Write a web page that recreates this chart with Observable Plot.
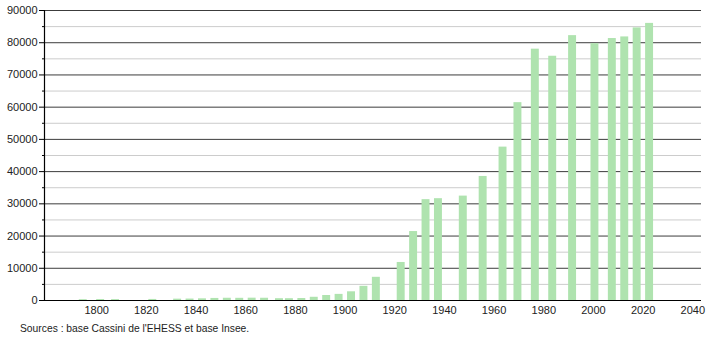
<!DOCTYPE html>
<html>
<head>
<meta charset="utf-8">
<script src="https://cdn.jsdelivr.net/npm/d3@7"></script>
<script src="https://cdn.jsdelivr.net/npm/@observablehq/plot@0.6"></script>
<style>
  body { margin: 0; background: #fff; font-family: "Liberation Sans", Arial, sans-serif; }
  #caption { font-size: 10.3px; color: #222; margin: 4px 0 0 20px; line-height: 13px; }
</style>
</head>
<body>
<div id="chart"></div>
<div id="caption">Sources : base Cassini de l'EHESS et base Insee.</div>
<script>
const years = [1793, 1800, 1806, 1821, 1831, 1836, 1841, 1846, 1851, 1856, 1861, 1866, 1872, 1876, 1881, 1886, 1891, 1896, 1901, 1906, 1911, 1921, 1926, 1931, 1936, 1946, 1954, 1962, 1968, 1975, 1982, 1990, 1999, 2006, 2011, 2016, 2021];
const population = [250, 300, 280, 330, 420, 450, 520, 640, 700, 680, 720, 700, 560, 560, 620, 1000, 1550, 1900, 2700, 4400, 7200, 11800, 21400, 31300, 31600, 32400, 38500, 47600, 61400, 78000, 75800, 82200, 79700, 81300, 81800, 84600, 86000];
const majorTicks = [0, 10000, 20000, 30000, 40000, 50000, 60000, 70000, 80000, 90000];
const minorTicks = [5000, 15000, 25000, 35000, 45000, 55000, 65000, 75000, 85000];
const xTicks = [1800, 1820, 1840, 1860, 1880, 1900, 1920, 1940, 1960, 1980, 2000, 2020, 2040];
const caption = "Sources : base Cassini de l'EHESS et base Insee.";

const data = years.map((y, i) => ({year: y, pop: population[i]}));
const xDomain = [1779, 2043.5];
const barYears = 3.2;

const chart = Plot.plot({
  width: 710,
  height: 318,
  marginLeft: 44,
  marginRight: 9,
  marginTop: 10,
  marginBottom: 18,
  style: {fontFamily: "'Liberation Sans', Arial, sans-serif", fontSize: "11px", color: "#222", background: "#fff"},
  x: {domain: xDomain},
  y: {domain: [0, 90000]},
  marks: [
    Plot.ruleY(minorTicks, {stroke: "#cccccc", strokeWidth: 1}),
    Plot.ruleY(majorTicks, {stroke: "#3c3c3c", strokeWidth: 1}),
    Plot.rectY(data, {x1: "year", x2: d => d.year + barYears, y: "pop", fill: "#afe3af"}),
    Plot.axisY({ticks: majorTicks, tickSize: 5, tickPadding: 2, tickFormat: d => String(d), label: null, stroke: "#000"}),
    Plot.axisY({ticks: minorTicks, tickSize: 2, tickFormat: () => "", label: null, stroke: "#000"}),
    Plot.axisX({ticks: xTicks, tickSize: 0, tickPadding: 6, tickFormat: d => String(d), label: null}),
    Plot.ruleX([xDomain[0]], {stroke: "#000", strokeWidth: 1.2}),
    Plot.ruleY([0], {stroke: "#000", strokeWidth: 1.2})
  ]
});
document.getElementById("chart").appendChild(chart);
document.getElementById("caption").textContent = caption;
</script>
</body>
</html>
